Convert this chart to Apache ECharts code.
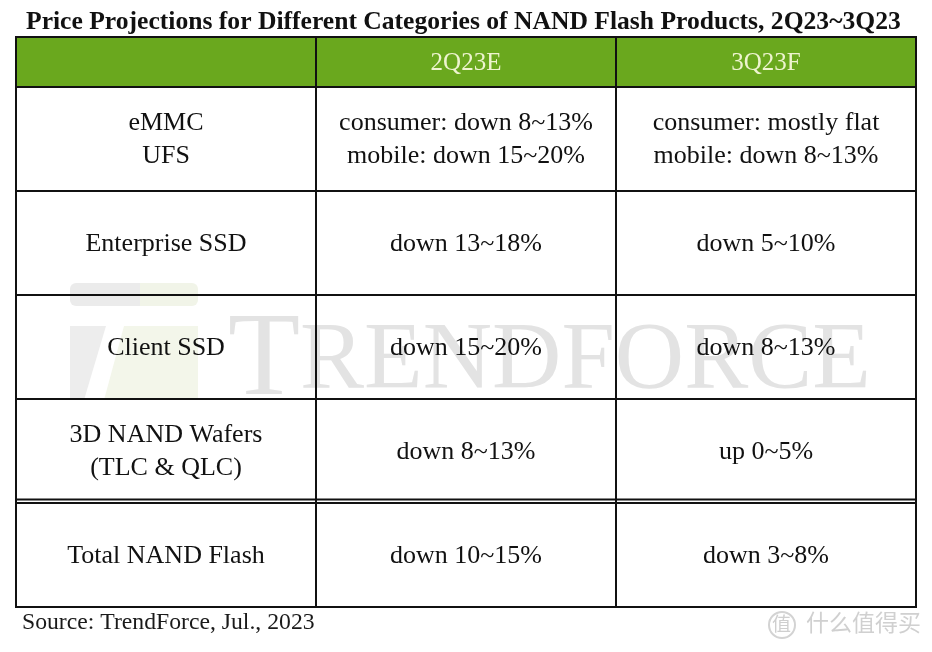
<!DOCTYPE html>
<html><head><meta charset="utf-8">
<script src="https://cdn.jsdelivr.net/npm/echarts@6/dist/echarts.min.js"></script>
<style>html,body{margin:0;padding:0;background:#fff}#c{width:932px;height:652px}</style>
</head><body><div id="c"></div>
<script>
const titleText = 'Price Projections for Different Categories of NAND Flash Products, 2Q23~3Q23';
const headers = ['', '2Q23E', '3Q23F'];
const categories = ['eMMC\nUFS', 'Enterprise SSD', 'Client SSD', '3D NAND Wafers\n(TLC & QLC)', 'Total NAND Flash'];
const q2 = ['consumer: down 8~13%\nmobile: down 15~20%', 'down 13~18%', 'down 15~20%', 'down 8~13%', 'down 10~15%'];
const q3 = ['consumer: mostly flat\nmobile: down 8~13%', 'down 5~10%', 'down 8~13%', 'up 0~5%', 'down 3~8%'];
const sourceText = 'Source: TrendForce, Jul., 2023';

const SERIF = '"Liberation Serif", "Times New Roman", serif';
const colKeys = ['c0', 'c1', 'c2'];
const rowKeys = categories.map((_, i) => 'r' + i);

const headerCells = headers.map((h, i) => ({ value: [i, 0], text: h }));
const bodyCells = [];
categories.forEach((cat, r) => {
  bodyCells.push({ value: [0, r], text: cat });
  bodyCells.push({ value: [1, r], text: q2[r] });
  bodyCells.push({ value: [2, r], text: q3[r] });
});

function makeRender(cells, isHeader) {
  return function (params, api) {
    const c = api.value(0), r = api.value(1);
    const p = api.coord([c, r]);
    const s = api.size([1, 1]);
    const x0 = p[0] - s[0] / 2, y0 = p[1] - s[1] / 2;
    const children = [{
      type: 'rect',
      shape: { x: x0, y: y0, width: s[0], height: s[1] },
      style: { fill: isHeader ? '#6aa81e' : 'rgba(0,0,0,0)', stroke: '#111', lineWidth: 2 }
    }, {
      type: 'text',
      style: {
        text: cells[params.dataIndex].text, x: p[0], y: p[1] + 1,
        align: 'center', verticalAlign: 'middle',
        fontFamily: SERIF, fontSize: isHeader ? 25 : 26, lineHeight: 33,
        fill: isHeader ? '#eef4cf' : '#111'
      }
    }];
    if (!isHeader && r === categories.length - 1) {
      children.push({
        type: 'line',
        shape: { x1: x0, y1: y0 - 3.5, x2: x0 + s[0], y2: y0 - 3.5 },
        style: { stroke: '#111', lineWidth: 2 }
      });
    }
    return { type: 'group', children };
  };
}

const chart = echarts.init(document.getElementById('c'), null, { renderer: 'canvas' });
chart.setOption({
  backgroundColor: '#fff',
  animation: false,
  title: {
    text: titleText, left: 21, top: 4,
    textStyle: { fontFamily: SERIF, fontWeight: 'bold', fontSize: 25.6, color: '#111' }
  },
  grid: [
    { left: 16, right: 16, top: 37, height: 50 },
    { left: 16, right: 16, top: 87, height: 520 }
  ],
  xAxis: [
    { gridIndex: 0, type: 'category', data: colKeys, show: false },
    { gridIndex: 1, type: 'category', data: colKeys, show: false }
  ],
  yAxis: [
    { gridIndex: 0, type: 'category', data: ['h'], show: false },
    { gridIndex: 1, type: 'category', data: rowKeys, inverse: true, show: false }
  ],
  graphic: [
    // TrendForce watermark logo
    { type: 'rect', z: 0, shape: { x: 70, y: 283, width: 70, height: 23, r: [6, 0, 0, 6] }, style: { fill: '#ebebeb' } },
    { type: 'rect', z: 0, shape: { x: 140, y: 283, width: 58, height: 23, r: [0, 6, 6, 0] }, style: { fill: '#f1f4e8' } },
    { type: 'polygon', z: 0, shape: { points: [[70, 326], [106, 326], [84, 400], [70, 400]] }, style: { fill: '#ededed' } },
    { type: 'polygon', z: 0, shape: { points: [[124, 326], [198, 326], [198, 400], [104, 400]] }, style: { fill: '#f3f6ea' } },
    {
      type: 'text', z: 0, left: 228, top: 304,
      style: {
        text: '{a|T}{b|RENDFORCE}',
        rich: {
          a: { fontFamily: SERIF, fontSize: 118, fill: '#e3e3e3' },
          b: { fontFamily: SERIF, fontSize: 96, fill: '#e3e3e3' }
        }
      }
    },
    {
      type: 'text', z: 5, left: 22, top: 611,
      style: { text: sourceText, fontFamily: SERIF, fontSize: 23.7, fill: '#1a1a1a' }
    },
    // site watermark
    { type: 'circle', z: 5, shape: { cx: 782, cy: 625, r: 13 }, style: { fill: 'none', stroke: '#d3d3d3', lineWidth: 2 } },
    {
      type: 'text', z: 5, left: 772, top: 614,
      style: { text: '值', fontFamily: '"Noto Sans CJK SC"', fontSize: 19, fill: '#cfcfcf' }
    },
    {
      type: 'text', z: 5, left: 806, top: 611,
      style: { text: '什么值得买', fontFamily: '"Noto Sans CJK SC"', fontSize: 23, fill: '#d0d0d0' }
    }
  ],
  series: [
    {
      type: 'custom', xAxisIndex: 0, yAxisIndex: 0, z: 3,
      renderItem: makeRender(headerCells, true),
      data: headerCells.map(d => d.value)
    },
    {
      type: 'custom', xAxisIndex: 1, yAxisIndex: 1, z: 3,
      renderItem: makeRender(bodyCells, false),
      data: bodyCells.map(d => d.value)
    }
  ]
});
</script></body></html>
